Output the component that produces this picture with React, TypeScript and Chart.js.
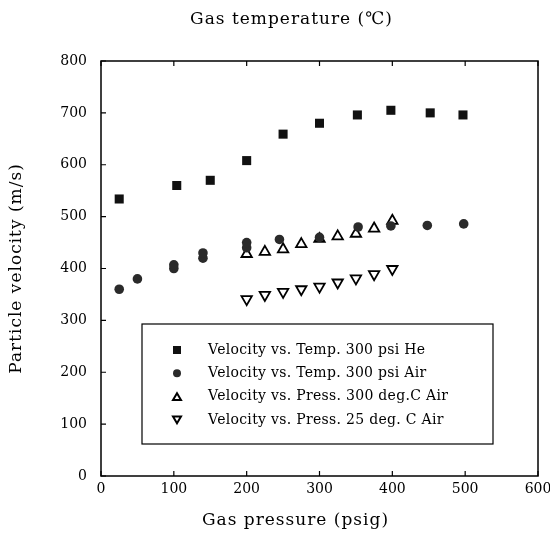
import React, { useEffect, useRef } from "react";
import { Chart, registerables } from "chart.js";

Chart.register(...registerables);

const heX = [25, 104, 150, 200, 250, 300, 352, 398, 452, 497];
const heY = [534, 560, 570, 608, 659, 680, 696, 705, 700, 696];

const airTX = [25, 50, 100, 100, 140, 140, 200, 200, 245, 300, 353, 398, 448, 498];
const airTY = [360, 380, 400, 407, 420, 430, 440, 450, 456, 460, 480, 482, 483, 486];

const press300X = [200, 225, 250, 275, 300, 325, 350, 375, 400];
const press300Y = [428, 432, 437, 447, 457, 462, 467, 477, 492];

const press25X = [200, 225, 250, 275, 300, 325, 350, 375, 400];
const press25Y = [341, 349, 355, 360, 365, 373, 381, 389, 399];

const seriesLabels = [
  "Velocity vs. Temp. 300 psi He",
  "Velocity vs. Temp. 300 psi Air",
  "Velocity vs. Press. 300 deg.C Air",
  "Velocity vs. Press. 25 deg. C Air",
];

const xTicks = [0, 100, 200, 300, 400, 500, 600];
const yTicks = [0, 100, 200, 300, 400, 500, 600, 700, 800];

const topTitle = "Gas temperature (\u2103)";
const xTitle = "Gas pressure (psig)";
const yTitle = "Particle velocity (m/s)";

const FONT = "'DejaVu Serif', 'Liberation Serif', serif";

function pts(xs: number[], ys: number[]) {
  return xs.map((x, i) => ({ x, y: ys[i] }));
}

function drawMarker(ctx: CanvasRenderingContext2D, kind: number, x: number, y: number, s: number) {
  ctx.save();
  ctx.beginPath();
  if (kind === 0) {
    ctx.fillStyle = "#111";
    ctx.fillRect(x - s / 2, y - s / 2, s, s);
  } else if (kind === 1) {
    ctx.fillStyle = "#2a2a2a";
    ctx.arc(x, y, s / 2, 0, Math.PI * 2);
    ctx.fill();
  } else {
    const h = s * 0.85;
    ctx.strokeStyle = "#000";
    ctx.lineWidth = 2;
    if (kind === 2) {
      ctx.moveTo(x, y - h / 2);
      ctx.lineTo(x + s / 2, y + h / 2);
      ctx.lineTo(x - s / 2, y + h / 2);
    } else {
      ctx.moveTo(x, y + h / 2);
      ctx.lineTo(x + s / 2, y - h / 2);
      ctx.lineTo(x - s / 2, y - h / 2);
    }
    ctx.closePath();
    ctx.stroke();
  }
  ctx.restore();
}

const framePlugin = {
  id: "framePlugin",
  afterDatasetsDraw(chart: any) {
    const { ctx, chartArea: a, scales } = chart;
    const xs = scales.x;
    const ys = scales.y;
    ctx.save();
    ctx.strokeStyle = "#000";
    ctx.lineWidth = 1.5;
    ctx.strokeRect(a.left, a.top, a.right - a.left, a.bottom - a.top);
    ctx.lineWidth = 1.2;
    ctx.beginPath();
    xTicks.forEach((v) => {
      const px = xs.getPixelForValue(v);
      ctx.moveTo(px, a.bottom);
      ctx.lineTo(px, a.bottom - 5);
      ctx.moveTo(px, a.top);
      ctx.lineTo(px, a.top + 5);
    });
    yTicks.forEach((v) => {
      const py = ys.getPixelForValue(v);
      ctx.moveTo(a.left, py);
      ctx.lineTo(a.left + 5, py);
    });
    ctx.stroke();

    // titles
    ctx.fillStyle = "#000";
    ctx.textAlign = "center";
    ctx.textBaseline = "middle";
    ctx.font = `17px ${FONT}`;
    (ctx as any).letterSpacing = "1px";
    const cx = a.left + (a.right - a.left) * 0.445;
    ctx.fillText(topTitle, cx - 4, 20);
    ctx.fillText(xTitle, cx, 521);
    ctx.save();
    ctx.translate(17, (a.top + a.bottom) / 2);
    ctx.rotate(-Math.PI / 2);
    ctx.fillText(yTitle, 0, 0);
    ctx.restore();

    // legend
    const lx = a.left + 41;
    const ly = a.top + 263;
    const lw = 351;
    const lh = 120;
    ctx.fillStyle = "#fff";
    ctx.fillRect(lx, ly, lw, lh);
    ctx.strokeStyle = "#000";
    ctx.lineWidth = 1.2;
    ctx.strokeRect(lx, ly, lw, lh);
    ctx.font = `14px ${FONT}`;
    (ctx as any).letterSpacing = "0.3px";
    ctx.textAlign = "left";
    seriesLabels.forEach((lab, i) => {
      const ry = ly + 26 + i * 23.3;
      drawMarker(ctx, i, lx + 35, ry, 8);
      ctx.fillStyle = "#000";
      ctx.fillText(lab, lx + 66, ry);
    });
    ctx.restore();
  },
};

export default function App() {
  const ref = useRef<HTMLCanvasElement>(null);
  useEffect(() => {
    document.body.style.margin = "0";
    const c = ref.current;
    if (!c) return;
    const chart = new Chart(c, {
      type: "scatter",
      data: {
        datasets: [
          {
            label: seriesLabels[0],
            data: pts(heX, heY),
            pointStyle: "rect",
            pointRadius: 6.4,
            backgroundColor: "#111",
            borderColor: "#111",
            borderWidth: 0,
          },
          {
            label: seriesLabels[1],
            data: pts(airTX, airTY),
            pointStyle: "circle",
            pointRadius: 4.8,
            backgroundColor: "#2a2a2a",
            borderColor: "#2a2a2a",
            borderWidth: 0,
          },
          {
            label: seriesLabels[2],
            data: pts(press300X, press300Y),
            pointStyle: "triangle",
            pointRadius: 6,
            backgroundColor: "rgba(255,255,255,0)",
            borderColor: "#000",
            borderWidth: 1.8,
          },
          {
            label: seriesLabels[3],
            data: pts(press25X, press25Y),
            pointStyle: "triangle",
            rotation: 180,
            pointRadius: 6,
            backgroundColor: "rgba(255,255,255,0)",
            borderColor: "#000",
            borderWidth: 1.8,
          },
        ],
      },
      options: {
        animation: false,
        responsive: false,
        layout: { padding: { top: 61, right: 12, left: 0, bottom: 0 } },
        plugins: {
          legend: { display: false },
          tooltip: { enabled: false },
          title: { display: false },
        },
        scales: {
          x: {
            type: "linear",
            min: 0,
            max: 600,
            afterFit: (s: any) => {
              s.height = 58;
              s.paddingLeft = 0;
              s.paddingRight = 0;
            },
            afterBuildTicks: (s: any) => {
              s.ticks = xTicks.map((v) => ({ value: v }));
            },
            grid: { display: false, drawTicks: false },
            border: { display: false },
            ticks: {
              color: "#000",
              font: { family: FONT, size: 14 },
              padding: 5,
              maxRotation: 0,
            },
          },
          y: {
            type: "linear",
            min: 0,
            max: 800,
            afterFit: (s: any) => {
              s.width = 101;
              s.paddingTop = 0;
              s.paddingBottom = 0;
            },
            afterBuildTicks: (s: any) => {
              s.ticks = yTicks.map((v) => ({ value: v }));
            },
            grid: { display: false, drawTicks: false },
            border: { display: false },
            ticks: {
              color: "#000",
              font: { family: FONT, size: 14 },
              padding: 14,
            },
          },
        },
      },
      plugins: [framePlugin],
    });
    return () => chart.destroy();
  }, []);
  return (
    <div style={{ width: 550, height: 534 }}>
      <canvas ref={ref} width={550} height={534} style={{ display: "block" }} />
    </div>
  );
}
